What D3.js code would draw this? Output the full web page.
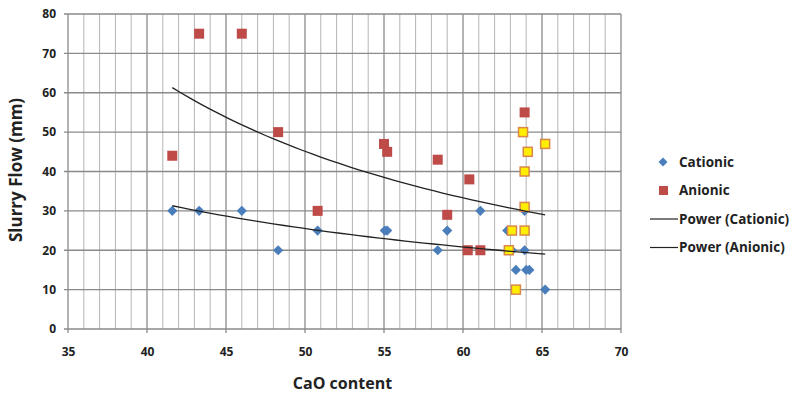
<!DOCTYPE html>
<html>
<head>
<meta charset="utf-8">
<script src="https://cdn.jsdelivr.net/npm/d3@7"></script>
<style>
  body { margin: 0; background: #fff; }
  text { font-family: "Open Sans", "Noto Sans", sans-serif; font-weight: bold; fill: #222; }
</style>
</head>
<body>
<div id="chart"></div>
<script>
// values
var cationicX = [41.6, 43.3, 46.0, 48.3, 50.8, 55.05, 55.2, 58.4, 59.0, 61.1, 62.8, 63.9, 63.1, 63.9, 63.35, 64.0, 64.2, 65.2];
var cationicY = [30, 30, 30, 20, 25, 25, 25, 20, 25, 30, 25, 30, 20, 20, 15, 15, 15, 10];

var anionicX = [41.6, 43.3, 46.0, 48.3, 50.8, 55.0, 55.2, 58.4, 59.0, 60.4, 60.3, 61.1, 63.9];
var anionicY = [44, 75, 75, 50, 30, 47, 45, 43, 29, 38, 20, 20, 55];

var otherX = [63.8, 65.2, 64.1, 63.9, 63.9, 63.1, 63.9, 62.9, 63.35];
var otherY = [50, 47, 45, 40, 31, 25, 25, 20, 10];

// power trend lines, ends
var powerCationic = { x0: 41.6, y0: 31.3, x1: 65.2, y1: 19.0 };
var powerAnionic = { x0: 41.6, y0: 61.3, x1: 65.2, y1: 29.0 };

var xTicks = [35, 40, 45, 50, 55, 60, 65, 70];
var yTicks = [0, 10, 20, 30, 40, 50, 60, 70, 80];
var legendLabels = ["Cationic", "Anionic", "Power (Cationic)", "Power (Anionic)"];

var svgWidth = 794, svgHeight = 394;
var margin = { top: 14, left: 68, right: 173, bottom: 65 };
var width = svgWidth - margin.left - margin.right;
var height = svgHeight - margin.top - margin.bottom;

var svg = d3.select("#chart").append("svg")
  .attr("width", svgWidth)
  .attr("height", svgHeight);

var chartGroup = svg.append("g")
  .attr("transform", `translate(${margin.left}, ${margin.top})`);

var xScale = d3.scaleLinear().domain([35, 70]).range([0, width]);
var yScale = d3.scaleLinear().domain([0, 80]).range([height, 0]);

// vertical grid, every 1 unit
chartGroup.append("g").selectAll("line")
  .data(d3.range(35, 71))
  .enter().append("line")
  .attr("x1", d => xScale(d)).attr("x2", d => xScale(d))
  .attr("y1", 0).attr("y2", d => d % 5 == 0 ? height + 4 : height)
  .attr("stroke", d => d % 5 == 0 ? "#8a8a8a" : "#b4b4b4")
  .attr("stroke-width", d => d % 5 == 0 ? 1.3 : 1);

// horizontal grid
chartGroup.append("g").selectAll("line")
  .data(yTicks)
  .enter().append("line")
  .attr("x1", -4).attr("x2", width)
  .attr("y1", d => yScale(d)).attr("y2", d => yScale(d))
  .attr("stroke", "#8a8a8a")
  .attr("stroke-width", 1.3);

// axes (labels only)
var xAxis = d3.axisBottom(xScale).tickValues(xTicks).tickSize(0).tickPadding(18);
var yAxis = d3.axisLeft(yScale).tickValues(yTicks).tickSize(0).tickPadding(12);

var gx = chartGroup.append("g").attr("transform", `translate(0, ${height})`).call(xAxis);
var gy = chartGroup.append("g").call(yAxis);
[gx, gy].forEach(g => {
  g.select(".domain").remove();
  g.selectAll("text").style("font-size", "12px").style("font-family", "'Open Sans', sans-serif").attr("fill", "#222");
});

// markers
chartGroup.append("g").selectAll("path")
  .data(d3.zip(cationicX, cationicY))
  .enter().append("path")
  .attr("d", d3.symbol().type(d3.symbolSquare).size(52))
  .attr("transform", d => `translate(${xScale(d[0])}, ${yScale(d[1])}) rotate(45)`)
  .attr("fill", "#4a7ebb");

chartGroup.append("g").selectAll("rect")
  .data(d3.zip(anionicX, anionicY))
  .enter().append("rect")
  .attr("x", d => xScale(d[0]) - 5)
  .attr("y", d => yScale(d[1]) - 5)
  .attr("width", 10).attr("height", 10)
  .attr("fill", "#be4b48");

chartGroup.append("g").selectAll("rect")
  .data(d3.zip(otherX, otherY))
  .enter().append("rect")
  .attr("x", d => xScale(d[0]) - 4.5)
  .attr("y", d => yScale(d[1]) - 4.5)
  .attr("width", 9).attr("height", 9)
  .attr("fill", "#ffee00")
  .attr("stroke", "#d8884a")
  .attr("stroke-width", 1.5);

// power trend lines y = a*x^b
function powerPoints(p) {
  var b = Math.log(p.y1 / p.y0) / Math.log(p.x1 / p.x0);
  var a = p.y0 / Math.pow(p.x0, b);
  var xs = d3.range(0, 41).map(i => p.x0 + (p.x1 - p.x0) * i / 40);
  return xs.map(x => [x, a * Math.pow(x, b)]);
}
var line = d3.line().x(d => xScale(d[0])).y(d => yScale(d[1]));

[powerCationic, powerAnionic].forEach(p => {
  chartGroup.append("path")
    .datum(powerPoints(p))
    .attr("d", line)
    .attr("fill", "none")
    .attr("stroke", "#222")
    .attr("stroke-width", 1.3);
});

// axis titles
svg.append("text")
  .attr("x", margin.left + width / 2 - 2)
  .attr("y", 389)
  .attr("text-anchor", "middle")
  .style("font-size", "16px")
  .text("CaO content");

svg.append("text")
  .attr("transform", `translate(22, 170) rotate(-90)`)
  .attr("text-anchor", "middle")
  .style("font-size", "17px")
  .text("Slurry Flow (mm)");

// legend
var legend = svg.append("g").attr("transform", "translate(650, 162)");
legendLabels.forEach((label, i) => {
  var y = i * 28.5;
  if (i == 0) {
    legend.append("path")
      .attr("d", d3.symbol().type(d3.symbolSquare).size(40))
      .attr("transform", `translate(13, ${y}) rotate(45)`)
      .attr("fill", "#4a7ebb");
  } else if (i == 1) {
    legend.append("rect")
      .attr("x", 9).attr("y", y - 4.5).attr("width", 9).attr("height", 9)
      .attr("fill", "#be4b48");
  } else {
    legend.append("line")
      .attr("x1", 0).attr("x2", 28)
      .attr("y1", y).attr("y2", y)
      .attr("stroke", "#222").attr("stroke-width", 1.2);
  }
  legend.append("text")
    .attr("x", 29)
    .attr("y", y)
    .attr("dy", "0.35em")
    .style("font-size", "13.5px")
    .text(label);
});
</script>
</body>
</html>
